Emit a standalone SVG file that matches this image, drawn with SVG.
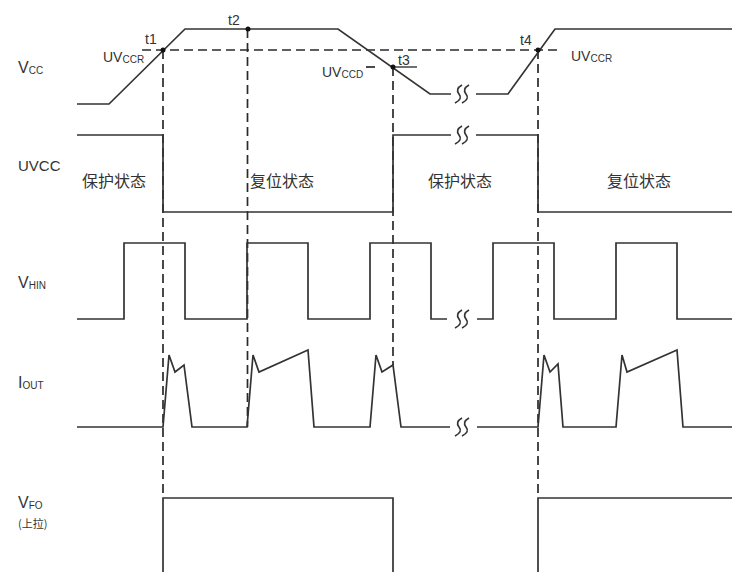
<svg xmlns="http://www.w3.org/2000/svg" width="732" height="572" viewBox="0 0 732 572">
<defs>
<style>
.s{fill:none;stroke:#333;stroke-width:1.7;stroke-linejoin:miter}
.d{fill:none;stroke:#2a2a2a;stroke-width:1.7;stroke-dasharray:9 5}
.t{font-family:"Liberation Sans","Noto Sans CJK SC",sans-serif;fill:#333;font-size:15px}
.sub{font-size:10px}
.c{font-family:"Noto Sans CJK SC","Liberation Sans",sans-serif;fill:#333;font-size:16px}
.dot{fill:#111}
</style>
<path id="brk" d="M4,-9 Q-3,-5 1,0 Q5,5 -3,9 M11,-9 Q4,-5 8,0 Q12,5 4,9" fill="none" stroke="#333" stroke-width="1.7"/>
</defs>
<rect width="732" height="572" fill="#fff"/>

<g id="labels">
<text class="t" x="18" y="73" style="font-size:16px">V<tspan class="sub" dy="1">CC</tspan></text>
<text class="t" x="18" y="171">UVCC</text>
<text class="t" x="18" y="288" style="font-size:16px">V<tspan class="sub" dy="1">HIN</tspan></text>
<text class="t" x="18" y="388" style="font-size:16px">I<tspan class="sub" dy="1">OUT</tspan></text>
<text class="t" x="18" y="508" style="font-size:16px">V<tspan class="sub" dy="1">FO</tspan></text>
<text class="c" x="18" y="528" style="font-size:11px">(上拉)</text>
</g>

<g id="connectors">
<path class="d" d="M142,50 H560"/>
<path class="d" d="M366,67 H377"/>
<path class="s" d="M393,67 H417" style="stroke-width:1.4"/>
<path class="d" d="M163,50 V498"/>
<path class="d" d="M247.5,29 V427"/>
<path class="d" d="M393,67 V365"/>
<path class="d" d="M538,50 V498"/>
</g>

<g id="vcc">
<path class="s" d="M77,104 H109 L185,29 H338 L430,94 H451"/>
<path class="s" d="M476,94 H508 L555,29 H732"/>
<use href="#brk" x="458" y="94"/>
<circle class="dot" cx="163" cy="50" r="2.5"/>
<circle class="dot" cx="248" cy="29" r="2.5"/>
<circle class="dot" cx="393" cy="67" r="2.5"/>
<circle class="dot" cx="538" cy="50" r="2.5"/>
<text class="t" x="145" y="44" style="font-size:14px">t1</text>
<text class="t" x="228" y="25" style="font-size:14px">t2</text>
<text class="t" x="398" y="65" style="font-size:14px">t3</text>
<text class="t" x="520" y="45" style="font-size:14px">t4</text>
<text class="t" x="103" y="62" style="font-size:14px">UV<tspan class="sub" dy="1">CCR</tspan></text>
<text class="t" x="322" y="77" style="font-size:14px">UV<tspan class="sub" dy="1">CCD</tspan></text>
<text class="t" x="571" y="61" style="font-size:14px">UV<tspan class="sub" dy="1">CCR</tspan></text>
</g>

<g id="uvcc">
<path class="s" d="M77,135 H163 V212 H393 V135 H451"/>
<path class="s" d="M476,135 H538 V212 H732"/>
<use href="#brk" x="458" y="135"/>
<text class="c" x="82" y="187">保护状态</text>
<text class="c" x="250" y="187">复位状态</text>
<text class="c" x="428" y="187">保护状态</text>
<text class="c" x="607" y="187">复位状态</text>
</g>

<g id="vhin">
<path class="s" d="M77,319 H124 V243 H185 V319 H247 V243 H308 V319 H370 V243 H431 V319 H447"/>
<path class="s" d="M477,319 H493 V243 H554 V319 H616 V243 H677 V319 H732"/>
<use href="#brk" x="458" y="319"/>
</g>

<g id="iout">
<path class="s" d="M77,427 H163 L169,355 L175,372 L184,365 L192,427 H247 L253,355 L259,372 L308,350 L314,427 H370 L376,355 L382,372 L393,365 L401,427 H450"/>
<path class="s" d="M477,427 H538 L544,355 L550,372 L558,364 L563,427 H616 L622,355 L627,372 L677,350 L683,427 H732"/>
<use href="#brk" x="458" y="427"/>
</g>

<g id="vfo">
<path class="s" d="M163,572 V498 H393 V572"/>
<path class="s" d="M538,572 V498 H732"/>
</g>
</svg>
